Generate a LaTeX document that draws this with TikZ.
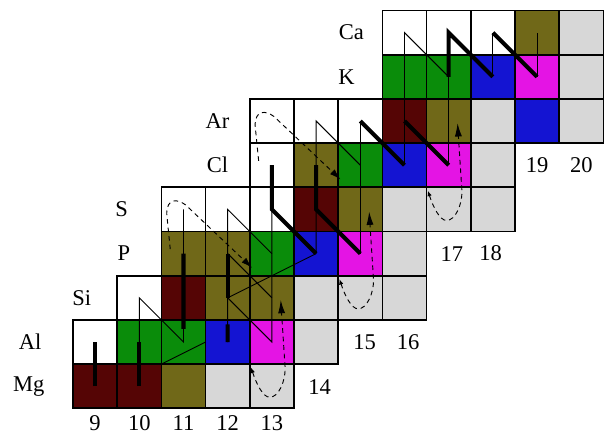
\documentclass[tikz,border=0pt]{standalone}
\usepackage{fontspec}
\setmainfont{Liberation Serif}
\usetikzlibrary{calc}
\usetikzlibrary{arrows.meta}
\definecolor{dkred}{RGB}{85,5,5}
\definecolor{olv}{RGB}{112,104,24}
\definecolor{grn}{RGB}{10,140,10}
\definecolor{blu}{RGB}{20,20,210}
\definecolor{mag}{RGB}{228,20,228}
\definecolor{lgr}{RGB}{215,215,215}

\begin{document}
\begin{tikzpicture}[font=\fontsize{14.5}{17}\selectfont]
\tikzset{
        cell/.style={draw, line width=1.1pt, minimum size=1cm, inner sep=0pt, outer sep=0pt},
        lab/.style={inner sep=0pt},
        flow/.style={line width=0.6pt},
        bigflow/.style={line width=2.6pt},
        cyc/.style={line width=0.6pt, dash pattern=on 3pt off 2.5pt},
    }
\useasboundingbox (-1.652,-0.808) rectangle (12.172,9.238);
% rows: Z index / first N column / colours
\foreach \r/\s/\cols in {0/0/{dkred,dkred,olv,lgr,lgr},
                        1/0/{white,grn,grn,blu,mag,lgr},
                        2/1/{white,dkred,olv,olv,lgr,lgr,lgr},
                        3/2/{olv,olv,grn,blu,mag,lgr},
                        4/2/{white,white,white,dkred,olv,lgr,lgr,lgr},
                        5/4/{white,olv,grn,blu,mag,lgr},
                        6/4/{white,white,white,dkred,olv,lgr,blu,lgr},
                        7/7/{grn,grn,blu,mag,lgr},
                        8/7/{white,white,white,olv,lgr}}
  \foreach \col [count=\cc from \s] in \cols
    \node[cell, fill=\col] (c-\r-\cc) at (\cc+0.5,\r+0.5) {};
\foreach \t/\x/\y in {Mg/-1.0/0.5, Al/-0.97/1.5, Si/0.2/2.5, P/1.15/3.5, S/1.1/4.5,
                      Cl/3.27/5.5, Ar/3.27/6.5, K/6.19/7.5, Ca/6.3/8.5}
  \node[lab] (l-\t) at (\x,\y) {\t};
\foreach \t/\x/\y in {9/0.5/-0.33, 10/1.5/-0.33, 11/2.5/-0.33, 12/3.5/-0.33, 13/4.5/-0.33,
                      14/5.58/0.48, 15/6.6/1.5, 16/7.58/1.5, 17/8.57/3.5, 18/9.45/3.5,
                      19/10.5/5.5, 20/11.5/5.5}
  \node[lab] (n\t) at (\x,\y) {\t};
% thin path
\draw[flow] (c-1-1.center) -- (c-2-1.center) -- (c-1-2.center) -- (c-4-2.center);
\draw[flow] (c-1-3.center) -- (c-4-3.center) -- (c-3-4.center);
\draw[flow] (c-2-3.center) -- (c-1-4.center) -- (c-4-4.center);
\draw[flow] (c-3-5.center) -- (c-6-5.center) -- (c-5-6.center);
\draw[flow] (c-3-6.center) -- (c-6-6.center);
\draw[flow] (c-5-7.center) -- (c-8-7.center) -- (c-7-8.center);
\draw[flow] (c-5-8.center) -- (c-8-8.center);
\draw[flow] (c-7-9.center) -- (c-8-9.center);
\draw[flow] (c-7-10.center) -- (c-8-10.center);
\draw[flow] (c-3-3.center) -- (c-2-4.center);
\draw[flow] (c-0-1.north east) -- (c-1-2.east);
\draw[flow] (c-2-3.center) -- (c-3-5.center);
% thick path
\draw[bigflow] (c-0-0.center) -- (c-1-0.center);
\draw[bigflow] (c-0-1.center) -- (c-1-1.center);
\draw[bigflow] ($(c-1-2)!0.3!(c-2-2)$) -- (c-3-2.center);
\draw[bigflow] (c-1-3.center) -- ($(c-1-3)!0.4!(c-2-3)$);
\draw[bigflow] (c-2-3.center) -- (c-3-3.center);
\draw[bigflow] (c-5-4.center) -- (c-4-4.center) -- (c-3-5.center);
\draw[bigflow] (c-5-5.center) -- (c-4-5.center) -- (c-3-6.center);
\draw[bigflow] (c-6-6.center) -- (c-5-7.center);
\draw[bigflow] (c-6-7.center) -- (c-5-8.center);
\draw[bigflow] (c-7-8.center) -- (c-8-8.center) -- (c-7-9.center);
\draw[bigflow] (c-8-9.center) -- (c-7-10.center);
% dashed cycles
\foreach \r/\cc in {4/2, 6/4}{
  \begin{scope}[shift={(c-\r-\cc.center)}]
    \draw[cyc, -{Latex[length=2.5mm,width=1.5mm]}] (-0.3,-0.9) -- (-0.38,-0.1)
      .. controls (-0.38,0.25) and (-0.15,0.25) .. (0.05,0.1) -- (1.55,-1.32);
  \end{scope}
}
\foreach \r/\cc in {0/4, 2/6, 4/8}{
  \begin{scope}[shift={(c-\r-\cc.center)}]
    \draw[cyc, {Latex[length=1.2mm,width=1mm]}-{Latex[length=3mm,width=1.6mm]}] (-0.47,0.42)
      .. controls (-0.35,0.05) and (-0.2,-0.25) .. (-0.05,-0.25)
      .. controls (0.15,-0.25) and (0.3,0.1) .. (0.3,0.4) -- (0.2,1.95);
  \end{scope}
}
\end{tikzpicture}
\end{document}
